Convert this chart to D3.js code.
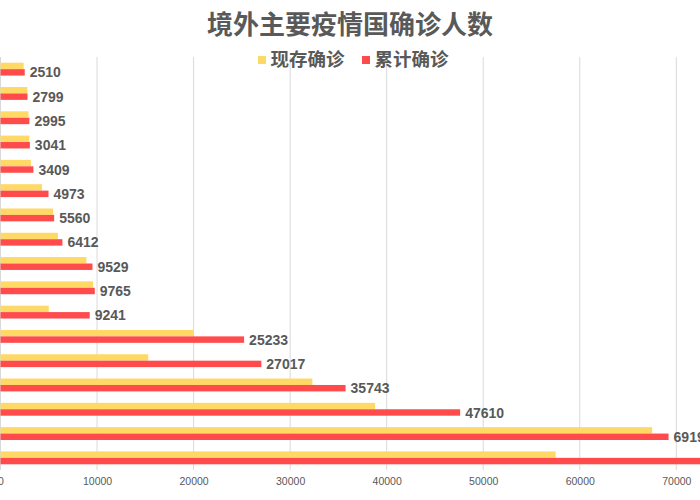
<!DOCTYPE html>
<html>
<head>
<meta charset="utf-8">
<script src="https://cdn.jsdelivr.net/npm/d3@7"></script>
<style>
  body { margin: 0; background: #fff; }
</style>
</head>
<body>
<div id="chart"></div>
<script>
// data (country names are cut off on the left of the original)
var countries = ["国家1", "国家2", "国家3", "国家4", "国家5", "国家6", "国家7", "国家8", "国家9",
  "国家10", "国家11", "国家12", "国家13", "国家14", "国家15", "国家16", "国家17"];
var currentCases = [2400, 2780, 2900, 2980, 3150, 4300, 5450, 5950, 8900, 9600, 5000,
  20000, 15300, 32300, 38800, 67500, 57500];
var totalCases = [2510, 2799, 2995, 3041, 3409, 4973, 5560, 6412, 9529, 9765, 9241,
  25233, 27017, 35743, 47610, 69199, 81000];
var seriesNames = ["现存确诊", "累计确诊"];
var xTicks = [0, 10000, 20000, 30000, 40000, 50000, 60000, 70000];

var svgWidth = 700;
var svgHeight = 500;
var colors = ["#ffd966", "#ff4b4b"];
var textColor = "#595959";

var svg = d3.select("#chart")
  .append("svg")
  .attr("width", svgWidth)
  .attr("height", svgHeight)
  .style("font-family", "'Liberation Sans', Arial, sans-serif");

var rows = countries.map(function(c, i) {
  return { country: c, values: [currentCases[i], totalCases[i]] };
});

// scales
var xScale = d3.scaleLinear()
  .domain([0, 70000])
  .range([0.5, 676.3]);

var yScale = d3.scaleBand()
  .domain(countries)
  .range([57, 470])
  .paddingInner(0.47)
  .paddingOuter(0.235);

var subScale = d3.scaleBand()
  .domain(d3.range(seriesNames.length))
  .range([0, yScale.bandwidth()]);

// gridlines
svg.append("g")
  .selectAll("line")
  .data(xTicks)
  .enter()
  .append("line")
  .attr("x1", d => xScale(d))
  .attr("x2", d => xScale(d))
  .attr("y1", 57)
  .attr("y2", 470)
  .attr("stroke", "#d9d9d9")
  .attr("stroke-width", 1);

// x axis labels
var bottomAxis = d3.axisBottom(xScale)
  .tickValues(xTicks)
  .tickFormat(d3.format("d"))
  .tickSize(0)
  .tickPadding(8);

var axisG = svg.append("g")
  .attr("transform", "translate(0, 470)")
  .call(bottomAxis);
axisG.select(".domain").remove();
axisG.selectAll("text")
  .style("font-size", "10.5px")
  .style("font-family", "'Liberation Sans', Arial, sans-serif")
  .attr("fill", textColor);

// bars
var rowGroups = svg.append("g")
  .selectAll("g")
  .data(rows)
  .enter()
  .append("g")
  .attr("transform", d => `translate(0, ${yScale(d.country)})`);

rowGroups.selectAll("rect")
  .data(d => d.values)
  .enter()
  .append("rect")
  .attr("x", xScale(0))
  .attr("y", (d, i) => subScale(i))
  .attr("width", d => xScale(d) - xScale(0))
  .attr("height", subScale.bandwidth())
  .attr("fill", (d, i) => colors[i]);

// value labels after the total bar (the ones past the right edge are not shown)
rowGroups.filter(d => xScale(d.values[1]) + 5 < svgWidth)
  .append("text")
  .attr("x", d => xScale(d.values[1]) + 5)
  .attr("y", subScale(1) + subScale.bandwidth() / 2)
  .attr("dy", "0.36em")
  .attr("fill", textColor)
  .style("font-size", "14px")
  .style("font-weight", "bold")
  .text(d => d.values[1]);

// title
svg.append("text")
  .attr("x", 350)
  .attr("y", 25)
  .attr("dy", "0.35em")
  .attr("text-anchor", "middle")
  .attr("fill", textColor)
  .style("font-family", "'Noto Sans CJK SC', sans-serif")
  .style("font-size", "26px")
  .style("font-weight", "bold")
  .text("境外主要疫情国确诊人数");

// legend
var legendX = [258, 362];
var legend = svg.append("g")
  .selectAll("g")
  .data(seriesNames)
  .enter()
  .append("g")
  .attr("transform", (d, i) => `translate(${legendX[i]}, 60)`);

legend.append("rect")
  .attr("x", 0)
  .attr("y", -4)
  .attr("width", 8)
  .attr("height", 8)
  .attr("fill", (d, i) => colors[i]);

legend.append("text")
  .attr("x", 12.5)
  .attr("y", 0)
  .attr("dy", "0.35em")
  .attr("fill", textColor)
  .style("font-family", "'Noto Sans CJK SC', sans-serif")
  .style("font-size", "18.5px")
  .style("font-weight", "bold")
  .text(d => d);
</script>
</body>
</html>
